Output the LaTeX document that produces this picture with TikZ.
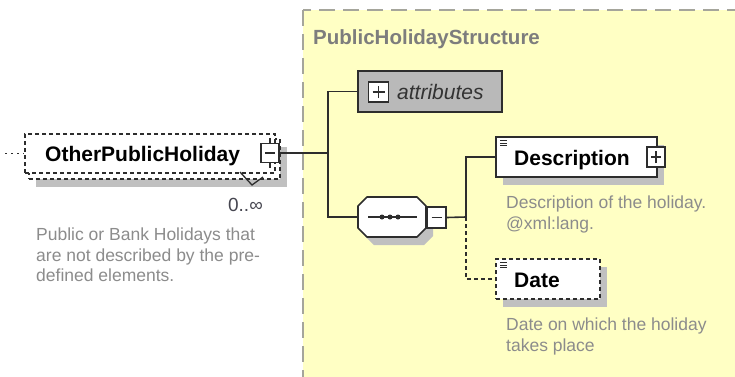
\documentclass[tikz,border=0pt]{standalone}
\usepackage{fontspec}
\setmainfont{Liberation Sans}
\definecolor{grpfill}{RGB}{255,255,196}
\definecolor{grpline}{RGB}{165,165,155}
\definecolor{shadowc}{RGB}{192,192,192}
\definecolor{doctext}{RGB}{140,140,140}
\definecolor{titlec}{RGB}{125,125,125}
\definecolor{boxline}{RGB}{45,45,45}
\definecolor{attrfill}{RGB}{185,185,185}
\definecolor{multc}{RGB}{70,70,80}
\tikzset{
  elbox/.style={draw=boxline, line width=1.6pt, fill=white, rectangle, inner sep=0pt},
  dashbox/.style={elbox, dash pattern=on 4pt off 3pt},
  shadowbox/.style={fill=shadowc, draw=none, rectangle, inner sep=0pt},
  iconbox/.style={draw=boxline, line width=1.3pt, fill=white, rectangle, inner sep=0pt, minimum width=18pt, minimum height=19pt},
  conn/.style={draw=boxline, line width=1.6pt},
  dconn/.style={conn, dash pattern=on 4pt off 3pt},
  eltext/.style={anchor=base west, inner sep=0pt, font=\bfseries\fontsize{21}{24}\selectfont, text=black},
  doc/.style={anchor=north west, inner sep=0pt, align=left, text=doctext, font=\fontsize{17.5}{20.5}\selectfont}
}
\newcommand{\octpath}[3]{% center x, center y, fill/draw options via scope
  (#1-34,#2-11) -- (#1-34,#2+11) -- (#1-25,#2+20) -- (#1+25,#2+20) -- (#1+34,#2+11) -- (#1+34,#2-11) -- (#1+25,#2-20) -- (#1-25,#2-20) -- cycle}
\begin{document}
\begin{tikzpicture}[x=1pt,y=-1pt]
\useasboundingbox (0,0) rectangle (735,376);
\fill[white] (0,0) rectangle (735,376);
% group
\draw[grpline, line width=2.2pt, dash pattern=on 16pt off 8pt, fill=grpfill] (303,10) rectangle (750,395);
\node[anchor=base west, inner sep=0pt, text=titlec, font=\bfseries\fontsize{20.5}{24}\selectfont] (title) at (313,44.5) {PublicHolidayStructure};

% main element (multiple, optional)
\node[shadowbox, minimum width=251pt, minimum height=40pt] (mainsh) at (161.5,167) {};
\node[dashbox, minimum width=251pt, minimum height=40pt] (mainback) at (154.5,159) {};
\node[dashbox, minimum width=250pt, minimum height=39pt] (main) at (150,153.5) {};
\node[eltext] (maintext) at (45,161.5) {OtherPublicHoliday};
\draw[boxline, line width=1.3pt] (240,172) -- (252,185) -- (263,177);
\node[iconbox] (mainicon) at (270,153) {};
\draw[boxline, line width=1.3pt] ([xshift=-5pt]mainicon.center) -- ([xshift=5pt]mainicon.center);
\draw[boxline, line width=1.3pt] (mainicon.north) -- ++(0,-5);
\draw[boxline, line width=1.3pt] (mainicon.south) -- ++(0,5);
\node[anchor=base east, inner sep=0pt, text=multc, font=\fontsize{19}{22}\selectfont] (mult) at (263,211) {0..∞};
\coordinate (lin) at (5,153.5);
\draw[boxline, line width=1.4pt, dash pattern=on 2pt off 4pt] (lin) -- (main.west);
\node[doc] (maindoc) at (36,228) {Public or Bank Holidays that\\are not described by the pre-\\defined elements.};

% attributes
\node[draw=boxline, line width=1.6pt, fill=attrfill, rectangle, inner sep=0pt, minimum width=144pt, minimum height=41pt] (attr) at (430,91.5) {};
\node[iconbox, minimum width=20pt, minimum height=20pt] (attricon) at (378.5,92) {};
\draw[boxline, line width=1.3pt] ([xshift=-6pt]attricon.center) -- ([xshift=6pt]attricon.center);
\draw[boxline, line width=1.3pt] ([yshift=-6pt]attricon.center) -- ([yshift=6pt]attricon.center);
\node[anchor=base west, inner sep=0pt, font=\itshape\fontsize{21}{24}\selectfont, text=black!80] (attrtext) at (397,99.5) {attributes};

% sequence compositor
\fill[shadowc] \octpath{399}{225}{};
\node[inner sep=0pt, minimum width=68pt, minimum height=40pt] (seq) at (392,217) {};
\filldraw[boxline, fill=white, line width=1.6pt, line join=round] \octpath{392}{217}{};
\draw[boxline, line width=1.4pt] (368,217) -- (417,217);
\foreach \dx in {382,390,398} \fill[boxline] (\dx,217) circle (2.5pt);
\node[iconbox, minimum width=19pt, minimum height=21pt] (seqicon) at (436.5,217.5) {};
\draw[boxline, line width=1.3pt] ([xshift=-5pt]seqicon.center) -- ([xshift=5pt]seqicon.center);

% Description
\node[shadowbox, minimum width=161pt, minimum height=40pt] (descsh) at (583.5,165) {};
\node[elbox, minimum width=161pt, minimum height=40pt] (desc) at (576.5,157) {};
\foreach \dy in {140.5,143,145.5} \draw[boxline, line width=0.8pt] (500,\dy) -- (507,\dy);
\node[eltext] (desctext) at (514,165.5) {Description};
\node[iconbox, minimum width=18pt, minimum height=20pt] (descicon) at (656,157) {};
\draw[boxline, line width=1.3pt] ([xshift=-5pt]descicon.center) -- ([xshift=5pt]descicon.center);
\draw[boxline, line width=1.3pt] ([yshift=-6pt]descicon.center) -- ([yshift=6pt]descicon.center);
\node[doc] (descdoc) at (506,196) {Description of the holiday.\\@xml:lang.};

% Date
\node[shadowbox, minimum width=104pt, minimum height=40pt] (datesh) at (555,287) {};
\node[dashbox, minimum width=104pt, minimum height=40pt] (date) at (548,279) {};
\foreach \dy in {262.5,265,267.5} \draw[boxline, line width=0.8pt] (500,\dy) -- (507,\dy);
\node[eltext] (datetext) at (514,287.5) {Date};
\node[doc] (datedoc) at (506,318) {Date on which the holiday\\takes place};

% connectors
\coordinate (b1) at (328,153);
\coordinate (b2) at (466,217);
\draw[conn] (mainicon.east) -- (b1);
\draw[conn] (attr.west) -| (b1) |- (seq.west);
\draw[conn] (seqicon.east) -- (b2) |- (desc.west);
\draw[dconn] (b2) |- (date.west);
\end{tikzpicture}
\end{document}
